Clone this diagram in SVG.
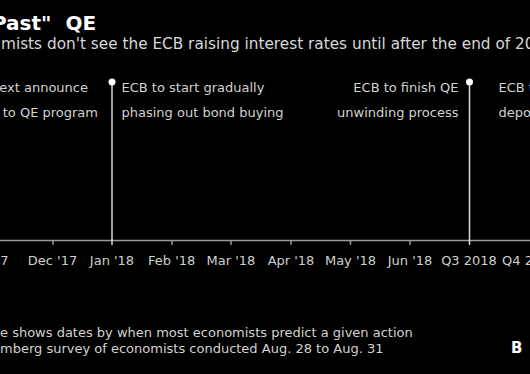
<svg xmlns="http://www.w3.org/2000/svg" width="530" height="374" viewBox="0 0 530 374">
<style>
text{font-family:"DejaVu Sans",Verdana,sans-serif;}
.t{font-size:13px;fill:#d2d2d2;}
.ax{font-size:13px;fill:#cfcfcf;text-anchor:middle;}
.stem{stroke:#d8d8d8;stroke-width:1.5;}
.dot{fill:#ffffff;}
.tick{stroke:#9a9a9a;stroke-width:1.5;}
</style>
<rect width="530" height="374" fill="#000"/>
<g id="title">
<text x="-8" y="30" font-size="20" font-weight="bold" fill="#ffffff" xml:space="preserve">Past"  QE</text>
<text x="1" y="48.5" font-size="15.3" fill="#d8d8d8">mists don't see the ECB raising interest rates until after the end of 20</text>
</g>
<g id="connectors">
<line class="tick" x1="0" y1="240.5" x2="530" y2="240.5"/>
<line class="tick" x1="53" y1="240" x2="53" y2="245"/>
<line class="tick" x1="172" y1="240" x2="172" y2="245"/>
<line class="tick" x1="231" y1="240" x2="231" y2="245"/>
<line class="tick" x1="291" y1="240" x2="291" y2="245"/>
<line class="tick" x1="350.5" y1="240" x2="350.5" y2="245"/>
<line class="tick" x1="410" y1="240" x2="410" y2="245"/>
<line class="stem" x1="112" y1="82" x2="112" y2="245"/>
<line class="stem" x1="469.5" y1="82" x2="469.5" y2="245"/>
</g>
<g id="node-left">
<text class="t" x="88" y="92" text-anchor="end">ext announce</text>
<text class="t" x="98" y="117" text-anchor="end">to QE program</text>
</g>
<g id="node-jan18">
<circle class="dot" cx="112" cy="82" r="3.5"/>
<text class="t" x="121.5" y="92">ECB to start gradually</text>
<text class="t" x="121.5" y="117">phasing out bond buying</text>
</g>
<g id="node-q3">
<circle class="dot" cx="469.5" cy="82" r="3.5"/>
<text class="t" x="458.5" y="92" text-anchor="end">ECB to finish QE</text>
<text class="t" x="458.5" y="117" text-anchor="end">unwinding process</text>
</g>
<g id="node-right">
<text class="t" x="498.5" y="92">ECB t</text>
<text class="t" x="498.5" y="117">depo</text>
</g>
<g id="axis-labels">
<text class="ax" x="8.5" y="265" text-anchor="end" style="text-anchor:end">'17</text>
<text class="ax" x="52.5" y="265">Dec '17</text>
<text class="ax" x="112" y="265">Jan '18</text>
<text class="ax" x="171.7" y="265">Feb '18</text>
<text class="ax" x="231" y="265">Mar '18</text>
<text class="ax" x="291" y="265">Apr '18</text>
<text class="ax" x="350.5" y="265">May '18</text>
<text class="ax" x="410" y="265">Jun '18</text>
<text class="ax" x="469" y="265">Q3 2018</text>
<text class="ax" x="502" y="265" style="text-anchor:start">Q4 2</text>
</g>
<g id="footer">
<text class="t" x="0" y="336.5">e shows dates by when most economists predict a given action</text>
<text class="t" x="0" y="353">mberg survey of economists conducted Aug. 28 to Aug. 31</text>
<text x="511" y="353" font-size="15" font-weight="bold" fill="#ffffff">B</text>
</g>
</svg>
